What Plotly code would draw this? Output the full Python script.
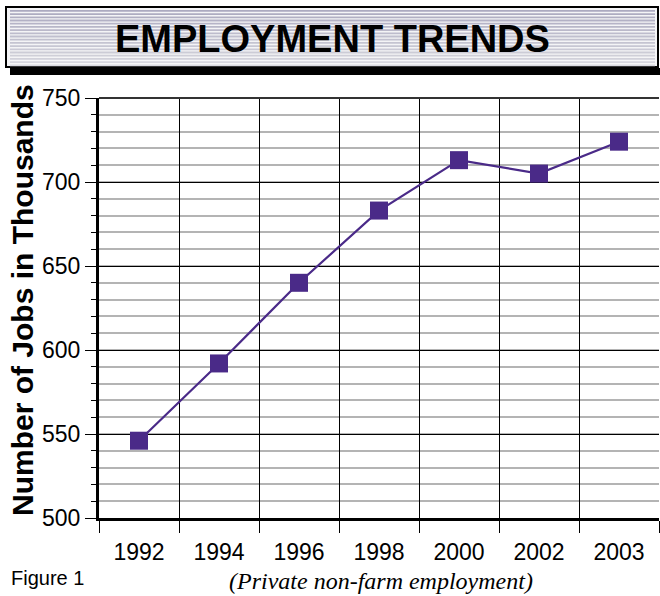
import plotly.graph_objects as go

# ---- data ----
years = ["1992", "1994", "1996", "1998", "2000", "2002", "2003"]
jobs = [546, 592, 640, 683, 713, 705, 724]
y_ticks = [500, 550, 600, 650, 700, 750]
title_text = "EMPLOYMENT TRENDS"
y_title = "Number of Jobs in Thousands"
figure_label = "Figure 1"
note = "(Private non-farm employment)"

# ---- geometry helpers (pixel -> paper) ----
W, H = 660, 596
L, R, T, B = 99, 659, 98, 518


def px(x):
    return (x - L) / (R - L)


def py(y):
    return (B - y) / (B - T)


purple = "#4a2a88"
sans = "Liberation Sans, Arial, Helvetica, sans-serif"

fig = go.Figure(
    go.Scatter(
        x=years, y=jobs, mode="lines+markers",
        line=dict(color=purple, width=2.2),
        marker=dict(symbol="square", size=18, color=purple),
        cliponaxis=False,
    )
)

fig.update_layout(
    width=W, height=H,
    margin=dict(l=L, r=W - R, t=T, b=H - B),
    paper_bgcolor="white", plot_bgcolor="white",
    showlegend=False,
)

fig.update_xaxes(
    type="category", tickson="boundaries", range=[-0.5, 6.5],
    ticks="outside", ticklen=12, tickwidth=1.2, tickcolor="black",
    showgrid=True, gridcolor="black", gridwidth=1,
    showline=True, linecolor="black", linewidth=3,
    tickfont=dict(family=sans, size=23, color="black"),
    ticklabelstandoff=11,
)
fig.update_yaxes(
    range=[500, 750], tickvals=y_ticks,
    ticks="outside", ticklen=11, tickwidth=1.2, tickcolor="black",
    showgrid=True, gridcolor="black", gridwidth=1,
    showline=True, linecolor="black", linewidth=3,
    zeroline=False,
    tickfont=dict(family=sans, size=23, color="black"),
    minor=dict(dtick=10, tick0=500, ticks="outside", ticklen=5, tickcolor="black",
               tickwidth=1, showgrid=True, gridcolor="#b4b4b4", gridwidth=1.5),
)

shapes = []
# top border of plot
shapes.append(dict(type="line", xref="paper", yref="paper", x0=0, x1=1, y0=1, y1=1,
                   line=dict(color="#333333", width=2)))
# title box shadow
shapes.append(dict(type="rect", xref="paper", yref="paper",
                   x0=px(10), x1=px(661), y0=py(68), y1=py(75),
                   fillcolor="black", line=dict(width=0)))
# title box
shapes.append(dict(type="rect", xref="paper", yref="paper",
                   x0=px(6), x1=px(658), y0=py(67), y1=py(7),
                   fillcolor="#f4f4f6", line=dict(color="black", width=2)))
# stripes
n = 18
for i in range(n):
    y0 = 10 + i * 3.2
    t = i / (n - 1)
    r = int(172 + t * (215 - 172))
    g = int(170 + t * (215 - 170))
    b = int(192 + t * (222 - 192))
    shapes.append(dict(type="rect", xref="paper", yref="paper",
                       x0=px(10), x1=px(655), y0=py(y0), y1=py(y0 + 1.8),
                       fillcolor=f"rgb({r},{g},{b})", line=dict(width=0)))
fig.update_layout(shapes=shapes)

annotations = [
    dict(text=f"<b>{title_text}</b>", xref="paper", yref="paper",
         x=px(332), y=py(39), showarrow=False,
         font=dict(family=sans, size=38, color="black"),
         xanchor="center", yanchor="middle"),
    dict(text=f"<b>{y_title}</b>", xref="paper", yref="paper",
         x=px(22), y=py(300), showarrow=False, textangle=-90,
         font=dict(family=sans, size=30, color="black"),
         xanchor="center", yanchor="middle"),
    dict(text=figure_label, xref="paper", yref="paper",
         x=px(9), y=py(578), showarrow=False,
         font=dict(family=sans, size=20, color="black"),
         xanchor="left", yanchor="middle"),
    dict(text=f"<i>{note}</i>", xref="paper", yref="paper",
         x=px(381), y=py(581), showarrow=False,
         font=dict(family="Liberation Serif, Times New Roman, serif", size=24, color="black"),
         xanchor="center", yanchor="middle"),
]
fig.update_layout(annotations=annotations)

fig.write_html(
    "out.html",
    config={"displayModeBar": False},
    post_script="document.body.style.margin='0';document.body.style.overflow='hidden';",
)
